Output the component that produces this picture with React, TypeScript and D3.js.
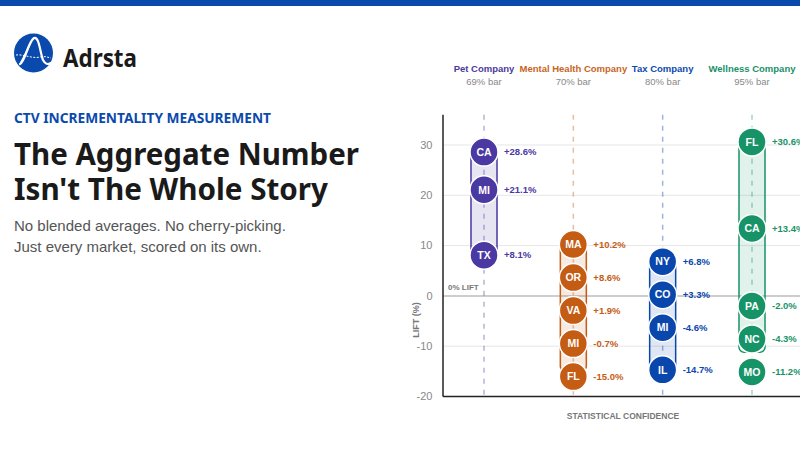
import React from 'react';
import * as d3 from 'd3';

// columns, one per advertiser
const companies = ['Pet Company', 'Mental Health Company', 'Tax Company', 'Wellness Company'];
const barLabels = ['69% bar', '70% bar', '80% bar', '95% bar'];
const colors = ['#4a38a3', '#c55c14', '#0a47ad', '#179467'];
const headColors = ['#4b3aa0', '#c8651f', '#0b4aad', '#1a9068'];

// per-market lift (%), sorted high to low
const petMarkets = ['CA', 'MI', 'TX'];
const petLift = [28.6, 21.1, 8.1];
const mentalMarkets = ['MA', 'OR', 'VA', 'MI', 'FL'];
const mentalLift = [10.2, 8.6, 1.9, -0.7, -15.0];
const taxMarkets = ['NY', 'CO', 'MI', 'IL'];
const taxLift = [6.8, 3.3, -4.6, -14.7];
const wellnessMarkets = ['FL', 'CA', 'PA', 'NC', 'MO'];
const wellnessLift = [30.6, 13.4, -2.0, -4.3, -11.2];

const yTicks = [30, 20, 10, 0, -10, -20];

const W = 800;
const H = 450;
const R = 14;
const GAP = 33;
const chartFont = '"Liberation Sans", Arial, sans-serif';
const headFont = '"Noto Sans", "Open Sans", sans-serif';

const plot = { left: 443, right: 800, top: 114.8, bottom: 396.5 };

const x = d3.scalePoint<string>().domain(companies).range([484, 752]);
const y = d3.scaleLinear().domain([-20, 36]).range([plot.bottom, plot.top]);

const fmt = (v: number) => (v > 0 ? '+' : '') + v.toFixed(1) + '%';

// push circles down so none overlap, keeping order
function dodge(values: number[]) {
  let prev = -Infinity;
  return values.map(v => {
    const p = Math.max(y(v), prev + GAP);
    prev = p;
    return p;
  });
}

const groups = [
  { markets: petMarkets, lift: petLift },
  { markets: mentalMarkets, lift: mentalLift },
  { markets: taxMarkets, lift: taxLift },
  { markets: wellnessMarkets, lift: wellnessLift },
].map((g, i) => ({ ...g, name: companies[i], bar: barLabels[i], color: colors[i], head: headColors[i] }));

function Logo() {
  return (
    <g>
      <circle cx={33.5} cy={53} r={19.5} fill="#0b4aad" />
      <path
        d="M20 64 C25 62, 28 42, 34 38 C39 36, 40 52, 43 60 C45 64, 48 65, 51 63"
        fill="none" stroke="#fff" strokeWidth={2.2} strokeLinecap="round"
      />
      <path
        d="M21 62 C24 58, 28 48, 31 42"
        fill="none" stroke="#fff" strokeWidth={1.6} strokeLinecap="round"
      />
      <path
        d="M16 55 C24 54, 32 59, 40 57 C44 56, 47 57, 51 58"
        fill="none" stroke="#fff" strokeWidth={1} strokeDasharray="2,1.5"
      />
    </g>
  );
}

export default function App() {
  return (
    <svg width={W} height={H} style={{ position: 'absolute', left: 0, top: 0, background: '#fff' }}>
      <rect x={0} y={0} width={W} height={6} fill="#0b4aad" />
      <Logo />
      <text x={63} y={66.5} fontFamily={headFont} fontWeight={700} fontSize={25} fill="#1a1a1a"
        textLength={74} lengthAdjust="spacingAndGlyphs">Adrsta</text>

      <text x={14} y={123} fontFamily={headFont} fontWeight={700} fontSize={14} fill="#0b4aad"
        textLength={257} lengthAdjust="spacingAndGlyphs">CTV INCREMENTALITY MEASUREMENT</text>
      <text x={14} y={165} fontFamily={headFont} fontWeight={700} fontSize={30} fill="#1a1a1a"
        textLength={345} lengthAdjust="spacingAndGlyphs">The Aggregate Number</text>
      <text x={14} y={199.5} fontFamily={headFont} fontWeight={700} fontSize={30} fill="#1a1a1a"
        textLength={314} lengthAdjust="spacingAndGlyphs">Isn't The Whole Story</text>
      <text x={14} y={231} fontFamily={chartFont} fontSize={15} fill="#555">No blended averages. No cherry-picking.</text>
      <text x={14} y={251.5} fontFamily={chartFont} fontSize={15} fill="#555">Just every market, scored on its own.</text>

      {/* column headers */}
      {groups.map(g => (
        <g key={g.name} fontFamily={chartFont} textAnchor="middle">
          <text x={x(g.name)} y={72} fontSize={9.5} fontWeight={700} fill={g.head}>{g.name}</text>
          <text x={x(g.name)} y={85} fontSize={9.5} fill="#888">{g.bar}</text>
        </g>
      ))}

      {/* grid */}
      {yTicks.filter(t => t !== 0 && t !== -20).map(t => (
        <line key={t} x1={plot.left} x2={plot.right} y1={y(t)} y2={y(t)} stroke="#e6e6e6" strokeWidth={1} />
      ))}
      <line x1={plot.left} x2={plot.right} y1={y(0)} y2={y(0)} stroke="#bdbdbd" strokeWidth={1.5} />
      {yTicks.map(t => (
        <text key={t} x={432.5} y={y(t)} dy="0.35em" textAnchor="end" fontFamily={chartFont}
          fontSize={11} fill="#888">{t}</text>
      ))}
      <text x={448} y={y(0) - 9} dy="0.35em" fontFamily={chartFont} fontSize={8} fontWeight={700}
        fill="#777">0% LIFT</text>

      {/* column guides */}
      {groups.map(g => (
        <line key={g.name} x1={x(g.name)} x2={x(g.name)} y1={plot.top} y2={plot.bottom}
          stroke={g.color} strokeOpacity={0.4} strokeWidth={1.5} strokeDasharray="5,6" />
      ))}

      {/* axes */}
      <line x1={plot.left} x2={plot.left} y1={plot.top} y2={plot.bottom} stroke="#222" strokeWidth={1.5} />
      <line x1={plot.left} x2={plot.right} y1={plot.bottom} y2={plot.bottom} stroke="#222" strokeWidth={1.5} />
      <text transform={`translate(416,320) rotate(-90)`} textAnchor="middle" dy="0.35em" fontFamily={chartFont}
        fontSize={9} fontWeight={700} fill="#777">LIFT (%)</text>
      <text x={623} y={419} textAnchor="middle" fontFamily={chartFont} fontSize={8.5} fontWeight={700}
        fill="#777">STATISTICAL CONFIDENCE</text>

      {/* range bars and market markers */}
      {groups.map(g => {
        const cx = x(g.name) as number;
        const top = y(d3.max(g.lift) as number);
        const bot = y(d3.min(g.lift) as number);
        const ys = dodge(g.lift);
        return (
          <g key={g.name}>
            <rect x={cx - 13} y={top} width={26} height={bot - top} rx={5}
              fill={g.color} fillOpacity={0.13} stroke={g.color} strokeWidth={1.5} />
            {g.markets.map((m, i) => (
              <g key={m}>
                <circle cx={cx} cy={ys[i]} r={R} fill={g.color} stroke="#fff" strokeWidth={1.5} />
                <text x={cx} y={ys[i]} dy="0.36em" textAnchor="middle" fontFamily={chartFont}
                  fontSize={10.5} fontWeight={700} fill="#fff">{m}</text>
                <text x={cx + 20} y={ys[i]} dy="0.35em" fontFamily={chartFont} fontSize={9.5}
                  fontWeight={700} fill={g.color}>{fmt(g.lift[i])}</text>
              </g>
            ))}
          </g>
        );
      })}
    </svg>
  );
}
